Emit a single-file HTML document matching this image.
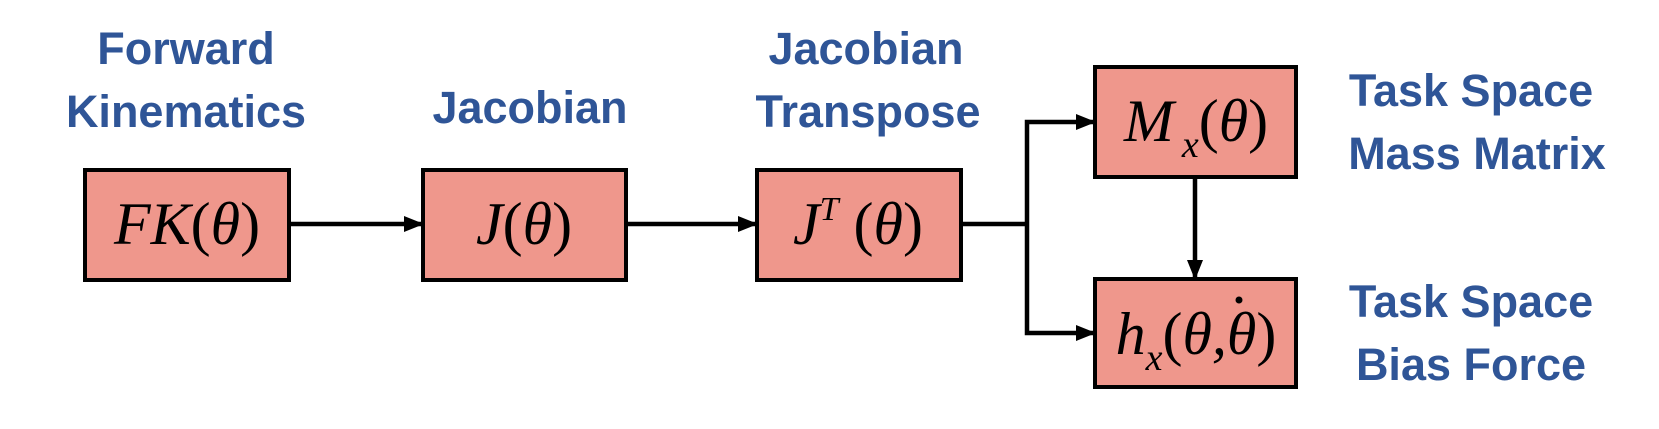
<!DOCTYPE html>
<html><head><meta charset="utf-8"><style>
html,body{margin:0;padding:0;background:#fff;width:1659px;height:429px;overflow:hidden}
.lbl{font-family:"Liberation Sans",sans-serif;font-weight:bold;font-size:45px;fill:#2f5597}
.m{font-family:"Liberation Serif",serif;font-style:italic;font-size:60px;fill:#000}
.u{font-style:normal}
</style></head><body>
<svg width="1659" height="429" viewBox="0 0 1659 429">
<defs><marker id="ah" markerWidth="20" markerHeight="16" refX="19" refY="8" orient="auto" markerUnits="userSpaceOnUse" viewBox="0 0 20 16"><path d="M0,0 L20,8 L0,16z" fill="#000"/></marker></defs>
<g stroke="#000" stroke-width="4.5" fill="none">
<line x1="289" y1="224" x2="423" y2="224" marker-end="url(#ah)"/>
<line x1="626" y1="224" x2="757" y2="224" marker-end="url(#ah)"/>
<polyline points="961,224 1027,224"/>
<polyline points="1027,224 1027,122 1095,122" marker-end="url(#ah)"/>
<polyline points="1027,224 1027,333 1095,333" marker-end="url(#ah)"/>
<line x1="1195" y1="177" x2="1195" y2="279" marker-end="url(#ah)"/>
</g>
<g fill="#ef978c" stroke="#000" stroke-width="4">
<rect x="85" y="170" width="204" height="110"/>
<rect x="423" y="170" width="203" height="110"/>
<rect x="757" y="170" width="204" height="110"/>
<rect x="1095" y="67" width="201" height="110"/>
<rect x="1095" y="279" width="201" height="108"/>
</g>
<text class="m" x="187" y="244" text-anchor="middle">FK<tspan class="u">(</tspan>θ<tspan class="u">)</tspan></text>
<text class="m" x="524" y="244" text-anchor="middle">J<tspan class="u">(</tspan>θ<tspan class="u">)</tspan></text>
<text class="m" x="858" y="244" text-anchor="middle">J<tspan font-size="34" dy="-24">T</tspan><tspan dy="24" class="u"> (</tspan>θ<tspan class="u">)</tspan></text>
<text class="m" x="1196" y="141" text-anchor="middle">M<tspan font-size="38" dx="8" dy="16">x</tspan><tspan dy="-16" class="u">(</tspan>θ<tspan class="u">)</tspan></text>
<text class="m" x="1196" y="354" text-anchor="middle">h<tspan font-size="38" dy="16">x</tspan><tspan dy="-16" class="u">(</tspan>θ,θ<tspan class="u">)</tspan></text>
<circle cx="1239" cy="300" r="3.5" fill="#000"/>
<text class="lbl" x="186" y="64" text-anchor="middle">Forward</text>
<text class="lbl" x="186" y="127" text-anchor="middle">Kinematics</text>
<text class="lbl" x="530" y="123" text-anchor="middle">Jacobian</text>
<text class="lbl" x="866" y="64" text-anchor="middle">Jacobian</text>
<text class="lbl" x="868" y="127" text-anchor="middle">Transpose</text>
<text class="lbl" x="1471" y="106" text-anchor="middle">Task Space</text>
<text class="lbl" x="1477" y="169" text-anchor="middle">Mass Matrix</text>
<text class="lbl" x="1471" y="317" text-anchor="middle">Task Space</text>
<text class="lbl" x="1471" y="380" text-anchor="middle">Bias Force</text>
</svg>
</body></html>
